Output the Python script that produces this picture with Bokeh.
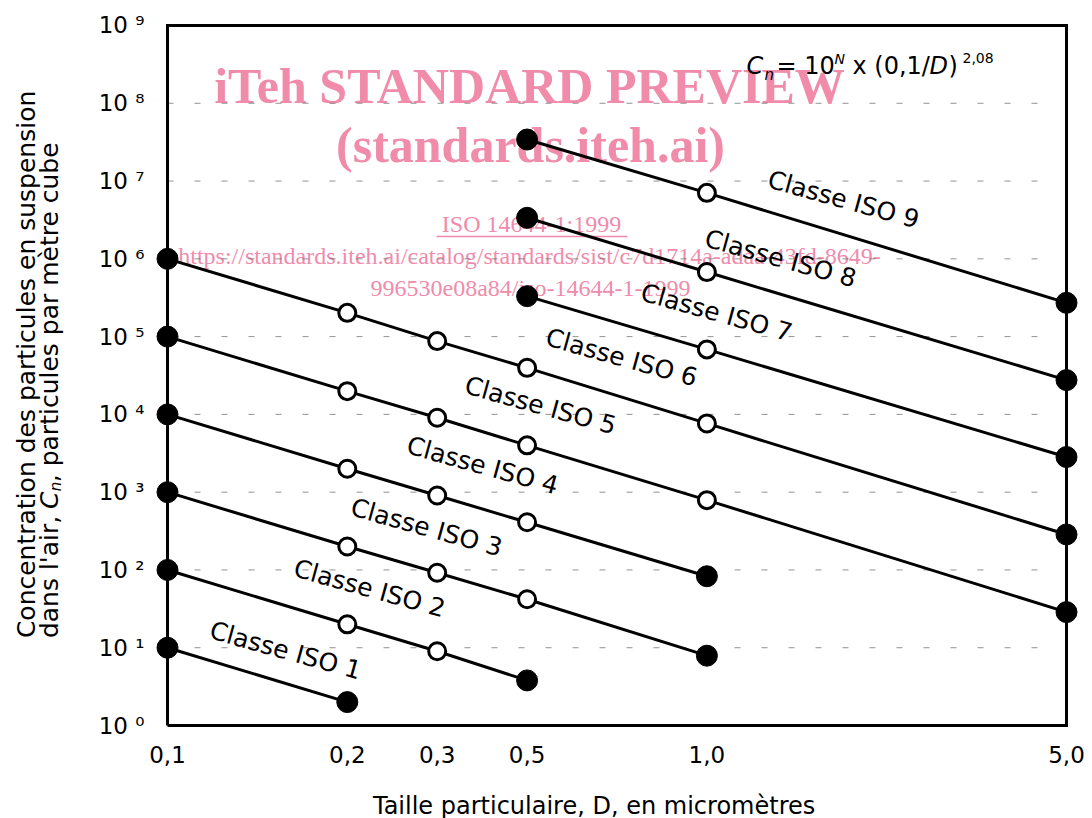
from bokeh.plotting import figure
from bokeh.models import Range1d, FixedTicker, Label
from bokeh.layouts import row
from bokeh.embed import file_html
from bokeh.resources import INLINE
import math

# ---------------- data ----------------
particle_sizes = [0.1, 0.2, 0.3, 0.5, 1.0, 5.0]            # D, micrometres
size_labels = ["0,1", "0,2", "0,3", "0,5", "1,0", "5,0"]
size_axis_pos = [0, 1, 1.5, 2, 3, 5]                        # schematic (uneven) x axis of the original

conc_decades = [0, 1, 2, 3, 4, 5, 6, 7, 8, 9]               # y ticks: 10^k particles / m3

cls1_d = [0.1, 0.2]
cls1_c = [10, 2.0]
cls2_d = [0.1, 0.2, 0.3, 0.5]
cls2_c = [100, 20, 9.0, 3.8]
cls3_d = [0.1, 0.2, 0.3, 0.5, 1.0]
cls3_c = [1000, 200, 92, 42, 7.9]
cls4_d = [0.1, 0.2, 0.3, 0.5, 1.0]
cls4_c = [10000, 2000, 905, 410, 83]
cls5_d = [0.1, 0.2, 0.3, 0.5, 1.0, 5.0]
cls5_c = [100000, 19900, 9050, 4000, 790, 28.7]
cls6_d = [0.1, 0.2, 0.3, 0.5, 1.0, 5.0]
cls6_c = [1000000, 202000, 87500, 39700, 7650, 286]
cls7_d = [0.5, 1.0, 5.0]
cls7_c = [331000, 68500, 2830]
cls8_d = [0.5, 1.0, 5.0]
cls8_c = [3370000, 676000, 27600]
cls9_d = [0.5, 1.0, 5.0]
cls9_c = [34200000, 7050000, 272000]

class_names = ["Classe ISO %d" % n for n in range(1, 10)]
class_series = [(cls1_d, cls1_c), (cls2_d, cls2_c), (cls3_d, cls3_c),
                (cls4_d, cls4_c), (cls5_d, cls5_c), (cls6_d, cls6_c),
                (cls7_d, cls7_c), (cls8_d, cls8_c), (cls9_d, cls9_c)]

x_title = "Taille particulaire, D, en micromètres"

# ---------------- layout helpers ----------------
pos_of = dict(zip(particle_sizes, size_axis_pos))
X_MIN, X_MAX = size_axis_pos[0], size_axis_pos[-1]
Y_MIN, Y_MAX = 10.0 ** conc_decades[0], 10.0 ** conc_decades[-1]

# pixel geometry of the reference frame, used only to place annotations
PX_X0, PX_PER_UNIT = 167.0, 179.8
PY_Y0, PY_PER_DEC = 726.0, 77.78
TITLE_W = 70          # width of the strip that carries the rotated y title
H = 818

FONT = "DejaVu Sans"
SERIF = "Liberation Serif"


def at(px, py):
    return (px - PX_X0) / PX_PER_UNIT, 10.0 ** ((PY_Y0 - py) / PY_PER_DEC)


PAD_X_PX, PAD_Y_PX = 14, 4
pad_x = PAD_X_PX / PX_PER_UNIT
pad_y = PAD_Y_PX / PY_PER_DEC
FW = int(round((X_MAX - X_MIN) * PX_PER_UNIT)) + 2 * PAD_X_PX
FH = int(round(9 * PY_PER_DEC)) + 2 * PAD_Y_PX
LEFT = int(PX_X0) - PAD_X_PX - TITLE_W
TOP = int(PY_Y0 - 9 * PY_PER_DEC) - PAD_Y_PX
BOTTOM = H - int(PY_Y0) - PAD_Y_PX

p = figure(frame_width=FW, frame_height=FH,
           x_range=Range1d(X_MIN - pad_x, X_MAX + pad_x),
           y_range=Range1d(10 ** (-pad_y), 10 ** (9 + pad_y)),
           y_axis_type="log", output_backend="svg", toolbar_location=None,
           min_border_left=LEFT, min_border_right=8,
           min_border_top=TOP, min_border_bottom=BOTTOM)
p.outline_line_color = None
p.background_fill_color = "white"
p.border_fill_color = "white"
p.xgrid.visible = False
p.ygrid.visible = False

# axes
p.xaxis.ticker = FixedTicker(ticks=size_axis_pos)
p.xaxis.major_label_overrides = {t: l for t, l in zip(size_axis_pos, size_labels)}
sup = "⁰¹²³⁴⁵⁶⁷⁸⁹"
p.yaxis.ticker = FixedTicker(ticks=[10 ** k for k in conc_decades])
p.yaxis.major_label_overrides = {10 ** k: "10 " + sup[k] for k in conc_decades}
for ax in (p.xaxis, p.yaxis):
    ax.axis_line_color = None
    ax.major_tick_line_color = None
    ax.minor_tick_line_color = None
    ax.major_tick_out = 0
    ax.major_tick_in = 0
    ax.major_label_text_font = FONT
    ax.major_label_text_font_size = "23px"
    ax.major_label_text_color = "black"
p.xaxis.major_label_standoff = 16
p.yaxis.major_label_standoff = 9

# x title: trailing no-break spaces shift the centred label left, as in the original
p.xaxis.axis_label = x_title + "\u00a0" * 6
p.xaxis.axis_label_text_font = FONT
p.xaxis.axis_label_text_font_size = "24px"
p.xaxis.axis_label_text_font_style = "normal"
p.xaxis.axis_label_text_color = "black"
p.xaxis.axis_label_standoff = 26

# dashed decade grid
grid_y = [10.0 ** k for k in conc_decades[1:-1]]
p.segment(x0=[X_MIN] * len(grid_y), x1=[4.85] * len(grid_y), y0=grid_y, y1=grid_y,
          line_color="#666666", line_width=0.8, line_dash="6 21", line_alpha=0.9)

PINK = "#f08caa"


def lab(text, px, py, size, font=FONT, style="normal", align="left",
        angle=0.0, color="black", level="annotation", centred=False):
    # py is the text baseline unless centred=True (then it is the text centre)
    cy = py if centred else py - 0.34 * size
    x, y = at(px, cy)
    p.add_layout(Label(x=x, y=y, text=text, text_font=font, text_font_size="%dpx" % size,
                       text_font_style=style, text_align=align, text_baseline="middle",
                       angle=angle, text_color=color, level=level))


# watermark (under the chart marks)
lab("iTeh STANDARD PREVIEW", 529, 103, 50, font=SERIF, style="bold", align="center", color=PINK, level="underlay")
lab("(standards.iteh.ai)", 530, 162, 50, font=SERIF, style="bold", align="center", color=PINK, level="underlay")
lab("ISO 14644-1:1999", 531, 233, 24, font=SERIF, align="center", color=PINK, level="underlay")
ux0, uy = at(436, 237)
ux1, _ = at(627, 237)
p.line([ux0, ux1], [uy, uy], line_color=PINK, line_width=1.3, level="underlay")
lab("https://standards.iteh.ai/catalog/standards/sist/c7d1714a-adaa-43fd-8649-", 529, 265, 24,
    font=SERIF, align="center", color=PINK, level="underlay")
lab("996530e08a84/iso-14644-1-1999", 530, 297, 24, font=SERIF, align="center", color=PINK, level="underlay")

# frame box
p.line([X_MIN, X_MAX, X_MAX, X_MIN, X_MIN], [Y_MIN, Y_MIN, Y_MAX, Y_MAX, Y_MIN],
       line_color="black", line_width=3, line_join="miter")

# class lines and markers
for d, c in class_series:
    xs = [pos_of[v] for v in d]
    p.line(xs, c, line_color="black", line_width=3)
    p.scatter([xs[0], xs[-1]], [c[0], c[-1]], size=21, marker="circle",
              fill_color="black", line_color="black", line_width=1)
    if len(xs) > 2:
        p.scatter(xs[1:-1], c[1:-1], size=17, marker="circle", fill_color="white",
                  line_color="black", line_width=3)

# class labels (centres)
label_centers = [(285, 651), (369, 589), (426, 528), (482, 466), (540, 406),
                 (621, 358), (716, 313), (780, 259), (843, 200)]
ang = math.radians(-15.5)
for name, (cx, cy) in zip(class_names, label_centers):
    lab(name, cx, cy, 25, align="center", angle=ang, centred=True)

# formula  C_n = 10^N x (0,1/D)^2,08
lab("C", 746, 75, 24, style="italic")
lab("n", 764, 81, 15, style="italic")
lab("= 10", 776, 75, 24)
lab("N", 834, 64, 14, style="italic")
lab("x (0,1/", 852, 75, 24)
lab("D", 929, 75, 24, style="italic")
lab(")", 948, 75, 24)
lab("2,08", 962, 63, 14)

# ---------------- y title strip (rotated two-line title, left-aligned) ----------------
# same top/bottom borders as the chart, so its frame spans page rows TOP .. H-BOTTOM
t = figure(width=TITLE_W, height=H, x_range=Range1d(0, TITLE_W), y_range=Range1d(H - BOTTOM, TOP),
           x_axis_location=None, y_axis_location=None,
           output_backend="svg", toolbar_location=None,
           min_border_left=0, min_border_right=0, min_border_top=TOP, min_border_bottom=BOTTOM)
t.grid.visible = False
t.outline_line_color = None
t.background_fill_color = "white"
t.border_fill_color = "white"
up = math.pi / 2


def tlab(text, base_x, start_y, size, style="normal"):
    # base_x: pixel column of the (rotated) baseline; start_y: pixel row where the text starts
    t.add_layout(Label(x=base_x - 0.34 * size, y=start_y, text=text, text_font=FONT,
                       text_font_size="%dpx" % size, text_font_style=style, text_align="left",
                       text_baseline="middle", angle=up, text_color="black"))


tlab("Concentration des particules en suspension", 34, 642, 25)
tlab("dans l'air, ", 57, 642, 25)
tlab("C", 57, 512, 25, style="italic")
tlab("n", 61, 494, 15, style="italic")
tlab(", particules par mètre cube", 57, 485, 25)

layout = row(t, p, spacing=0)
open("out.html", "w").write(file_html(layout, INLINE))
